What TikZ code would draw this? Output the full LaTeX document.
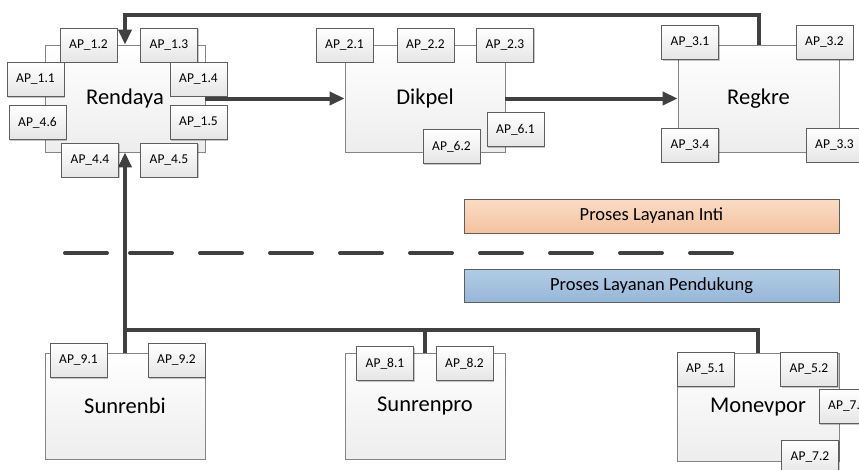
\documentclass[tikz,border=0pt]{standalone}
\usepackage{fontspec}
\setmainfont{Carlito}
\usetikzlibrary{arrows.meta,shadows,calc}

\definecolor{lineC}{HTML}{404040}
\definecolor{boxEdge}{HTML}{858585}
\definecolor{apEdge}{HTML}{5E5E5E}
\definecolor{coreTop}{HTML}{FBDCC6}
\definecolor{coreBot}{HTML}{F3C29E}
\definecolor{suppTop}{HTML}{B2CCE6}
\definecolor{suppBot}{HTML}{97B7D8}

\tikzset{
  softshadow/.style={drop shadow={shadow xshift=1.2pt, shadow yshift=-1.2pt, fill=black, opacity=0.22}},
  mainbox/.style={draw=boxEdge, line width=0.8pt, top color=white, bottom color=black!7,
    minimum width=160pt, minimum height=107pt, inner sep=0pt,
    font=\fontsize{22.5}{24}\selectfont, softshadow},
  apbox/.style={draw=apEdge, line width=0.8pt, top color=white, bottom color=black!10,
    minimum width=57pt, minimum height=34pt, inner sep=0pt,
    font=\fontsize{13.5}{15}\selectfont, softshadow},
  bandbox/.style={draw=apEdge, line width=0.8pt, minimum width=375pt, minimum height=34pt,
    inner sep=0pt, font=\fontsize{18.5}{20}\selectfont, softshadow},
  conn/.style={draw=lineC, line width=4pt},
  arrconn/.style={conn, -{Triangle[length=15pt,width=13pt]}},
}

\begin{document}
\begin{tikzpicture}[x=1pt, y=-1pt]
\useasboundingbox (0,0) rectangle (859,469);
\clip (0,0) rectangle (859,469);

% ---- core processes ----
\node[mainbox] (rendaya) at (125,98.5) {Rendaya};
\node[mainbox] (dikpel)  at (425,98.5) {Dikpel};
\node[mainbox, minimum width=161pt] (regkre) at (758.5,98.5) {Regkre};

% ---- supporting processes ----
\node[mainbox, minimum height=106pt] (sunrenbi)  at (125,406) {Sunrenbi};
\node[mainbox, minimum height=106pt] (sunrenpro) at (425,406) {Sunrenpro};
\node[mainbox, minimum width=162pt, minimum height=108pt] (monevpor) at (758,407) {Monevpor};

% ---- flows ----
\draw[arrconn] (rendaya.east) -- (dikpel.west);
\draw[arrconn] (dikpel.east) -- (regkre.west);
\coordinate (topbend) at (125,15);
\draw[arrconn, line join=miter] (regkre.north) |- (topbend) -- (rendaya.north);
\draw[arrconn] (sunrenbi.north) -- (rendaya.south);
\coordinate (busL) at (125,330);
\draw[conn, line join=miter] (busL) -| (monevpor.north);
\draw[conn] (sunrenpro.north) -- (sunrenpro.north |- busL);

% ---- application points: Rendaya ----
\node[apbox] (ap12) at (88.5,45)   {AP\_1.2};
\node[apbox] (ap13) at (169,45)    {AP\_1.3};
\node[apbox] (ap11) at (35.5,79.5) {AP\_1.1};
\node[apbox] (ap14) at (198.5,79)  {AP\_1.4};
\node[apbox] (ap46) at (37.5,122.5) {AP\_4.6};
\node[apbox] (ap15) at (198.5,122.5) {AP\_1.5};
\node[apbox] (ap44) at (90,160)    {AP\_4.4};
\node[apbox] (ap45) at (169,160)   {AP\_4.5};

% ---- application points: Dikpel ----
\node[apbox] (ap21) at (344.5,45) {AP\_2.1};
\node[apbox] (ap22) at (425.5,45) {AP\_2.2};
\node[apbox] (ap23) at (505,45)   {AP\_2.3};
\node[apbox] (ap61) at (515.5,129.5) {AP\_6.1};
\node[apbox] (ap62) at (451.5,146.5) {AP\_6.2};

% ---- application points: Regkre ----
\node[apbox] (ap31) at (690,42.5)   {AP\_3.1};
\node[apbox] (ap32) at (824.5,42.5) {AP\_3.2};
\node[apbox] (ap34) at (690,145)    {AP\_3.4};
\node[apbox] (ap33) at (834.5,145)  {AP\_3.3};

% ---- application points: supporting ----
\node[apbox] (ap91) at (78.5,360.5)  {AP\_9.1};
\node[apbox] (ap92) at (176.5,360.5) {AP\_9.2};
\node[apbox] (ap81) at (385,363.5)   {AP\_8.1};
\node[apbox] (ap82) at (464.5,363.5) {AP\_8.2};
\node[apbox] (ap51) at (705.5,369.5) {AP\_5.1};
\node[apbox] (ap52) at (809,369.5)   {AP\_5.2};
\node[apbox] (ap71) at (847.5,406.5) {AP\_7.1};
\node[apbox] (ap72) at (810,457)     {AP\_7.2};

% ---- legend bands and divider ----
\node[bandbox, top color=coreTop, bottom color=coreBot] (inti) at (651.5,216) {Proses Layanan Inti};
\node[bandbox, top color=suppTop, bottom color=suppBot, minimum height=33pt] (pendukung) at (651.5,285.5) {Proses Layanan Pendukung};

\draw[conn, line cap=round] (65,253) -- (107,253);
\foreach \i in {0,...,8}
  \draw[conn, line cap=round] ({130+70*\i},253) -- ({172+70*\i},253);
\end{tikzpicture}
\end{document}
